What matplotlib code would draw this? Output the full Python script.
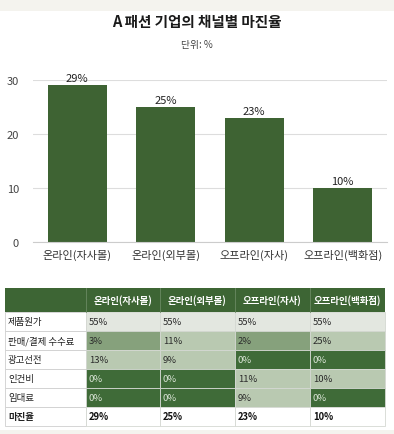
import numpy as np
import matplotlib
matplotlib.use('Agg')
import matplotlib.pyplot as plt
from matplotlib.patches import Rectangle

plt.rcParams['font.family'] = ['Noto Sans CJK KR', 'DejaVu Sans']

# 데이터
channels = ['온라인(자사몰)', '온라인(외부몰)', '오프라인(자사)', '오프라인(백화점)']
margin = [29, 25, 23, 10]
yticks = [0, 10, 20, 30]

row_names = ['제품원가', '판매/결제 수수료', '광고선전', '인건비', '임대료', '마진율']
cost_price = [55, 55, 55, 55]
fees = [3, 11, 2, 25]
advert = [13, 9, 0, 0]
labour = [0, 0, 11, 10]
rent = [0, 0, 9, 0]

GREEN = '#3e6333'
BEIGE = '#f4f3ee'

fig = plt.figure(figsize=(3.94, 4.35), dpi=100)
fig.patch.set_facecolor('white')

# 배경 띠 (위/아래)
bg = fig.add_axes([0, 0, 1, 1], zorder=-1)
bg.set_xlim(0, 394); bg.set_ylim(435, 0); bg.axis('off')
bg.add_patch(Rectangle((0, 0), 394, 12, color=BEIGE, lw=0))
bg.add_patch(Rectangle((0, 431), 394, 4, color=BEIGE, lw=0))

fig.text(0.5, 1 - 22 / 435, 'A 패션 기업의 채널별 마진율', ha='center', va='center',
         fontsize=10.5, fontweight='bold', color='#1a1a1a')
fig.text(0.5, 1 - 45 / 435, '단위: %', ha='center', va='center', fontsize=7, color='#444444')

# 1. 막대그래프
ax = fig.add_axes([33 / 394, 1 - 243 / 435, 354 / 394, 162 / 435])
x = np.arange(len(channels))
ax.bar(x, margin, width=0.67, color=GREEN, zorder=2)
for xi, v in zip(x, margin):
    ax.text(xi, v + 0.4, f'{v}%', ha='center', va='bottom', fontsize=8, color='#222222', clip_on=False)
ax.set_xlim(-0.5, len(channels) - 0.5)
ax.set_ylim(0, 30)
ax.set_yticks(yticks)
ax.yaxis.grid(True, color='#dddddd', lw=0.8, zorder=0)
ax.set_xticks(x)
ax.set_xticklabels(channels, fontsize=8, color='#333333')
ax.tick_params(axis='y', labelsize=8, labelcolor='#444444', length=0, pad=10)
ax.tick_params(axis='x', length=0, pad=5)
for s in ['top', 'right', 'left']: ax.spines[s].set_visible(False)
ax.spines['bottom'].set_color('#cccccc')

# 2. 표
tab = fig.add_axes([0, 0, 1, 1])
tab.set_xlim(0, 394); tab.set_ylim(435, 0); tab.axis('off')
col_edges = [5, 86, 160, 235, 310, 385]
row_edges = [289, 313, 332, 351, 370, 389, 408, 427]

def cell_colour(v):
    if v == 0: return '#3f6b38', '#dce6d8'
    if v < 5: return '#86a17c', '#2a2a2a'
    if v < 50: return '#b9c9b1', '#2a2a2a'
    return '#e3e7e0', '#2a2a2a'

body = [cost_price, fees, advert, labour, rent, margin]

# 머리행
tab.add_patch(Rectangle((col_edges[0], row_edges[0]), col_edges[-1] - col_edges[0],
                        row_edges[1] - row_edges[0], color='#3d6534', lw=0))
for j, name in enumerate(channels):
    xc = (col_edges[j + 1] + col_edges[j + 2]) / 2
    tab.text(xc, (row_edges[0] + row_edges[1]) / 2, name, ha='center', va='center',
             fontsize=6.8, fontweight='bold', color='white')
for j in range(1, len(col_edges) - 1):
    tab.plot([col_edges[j], col_edges[j]], [row_edges[0], row_edges[1]], color='#6a8a62', lw=0.6)

for i, name in enumerate(row_names):
    y0, y1 = row_edges[i + 1], row_edges[i + 2]
    ym = (y0 + y1) / 2
    last = (i == len(row_names) - 1)
    tab.add_patch(Rectangle((col_edges[0], y0), col_edges[1] - col_edges[0], y1 - y0,
                            facecolor='white', edgecolor='#cfcfcf', lw=0.6))
    tab.text(col_edges[0] + 3, ym, name, ha='left', va='center', fontsize=6.8,
             color='#222222', fontweight='bold' if last else 'normal')
    for j, v in enumerate(body[i]):
        if last:
            fc, tc = 'white', '#111111'
        else:
            fc, tc = cell_colour(v)
        tab.add_patch(Rectangle((col_edges[j + 1], y0), col_edges[j + 2] - col_edges[j + 1], y1 - y0,
                                facecolor=fc, edgecolor='#d4d8d2', lw=0.6))
        tab.text(col_edges[j + 1] + 3, ym, f'{v}%', ha='left', va='center', fontsize=6.8,
                 color=tc, fontweight='bold' if last else 'normal')

fig.savefig('out.png', dpi=100)
